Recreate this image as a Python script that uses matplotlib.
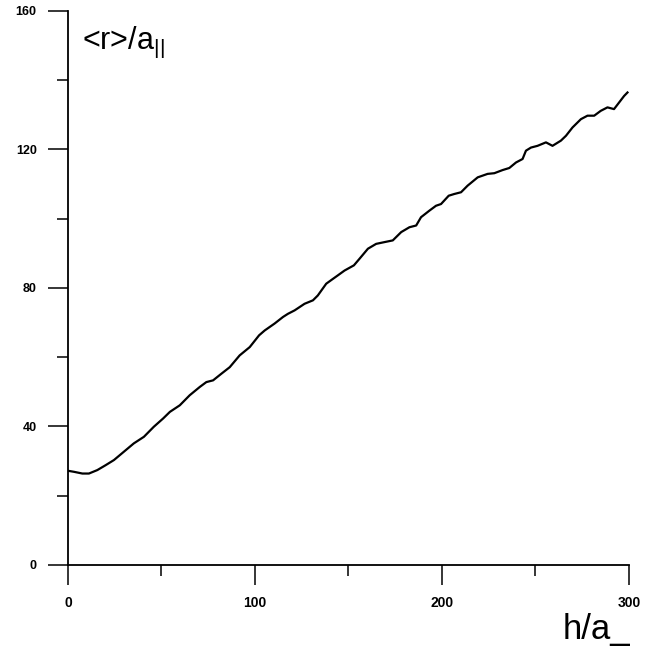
import matplotlib
matplotlib.use("Agg")
import matplotlib.pyplot as plt
from matplotlib.ticker import MultipleLocator

# <r>/a|| versus h/a_
h = [0, 3.2, 7.7, 11.2, 15.7, 20.1, 24.6, 29.9, 35.2, 40.6, 45.9, 50.9,
     54.5, 59.8, 65.1, 70.5, 74, 77.6, 82, 86.5, 91.8, 97.2, 102.2,
     105.2, 110.5, 115, 117.6, 121.2, 126.5, 131, 133.6, 138.1, 141.7,
     144.3, 147.9, 152.9, 155.9, 160.4, 164.8, 169.2, 173.7, 178.2,
     182.6, 186.2, 188.8, 193.3, 196.8, 199.5, 203.6, 206.6, 210.2,
     213.7, 219.1, 224.4, 228, 232.4, 236, 239.6, 243.1, 244.9, 247.6,
     251.1, 255.6, 259.1, 263.6, 266.3, 269.8, 274.3, 277.8, 281.4,
     284.9, 288.5, 292, 294.7, 297.4, 299.2]
r = [27.2, 26.9, 26.4, 26.4, 27.4, 28.8, 30.3, 32.7, 35.1, 37.0, 39.9, 42.3,
     44.2, 46.1, 49.0, 51.4, 52.8, 53.3, 55.2, 57.1, 60.5, 62.9, 66.3,
     67.7, 69.7, 71.6, 72.5, 73.5, 75.4, 76.4, 77.8, 81.2, 82.6,
     83.6, 85.0, 86.5, 88.4, 91.3, 92.7, 93.2, 93.7, 96.1,
     97.5, 98.0, 100.4, 102.3, 103.7, 104.2, 106.6, 107.1, 107.6,
     109.5, 111.9, 112.9, 113.1, 114.0, 114.6, 116.2, 117.2, 119.6, 120.5,
     121.0, 122.0, 121.0, 122.5, 123.9, 126.3, 128.7, 129.7, 129.7,
     131.1, 132.1, 131.6, 133.5, 135.4, 136.4]

fig = plt.figure(figsize=(6.58, 6.54), dpi=100)
ax = fig.add_axes([0.1033, 0.1361, 0.8526, 0.8475])

ax.plot(h, r, color="black", linewidth=1.6)

ax.set_xlim(0, 300)
ax.set_ylim(0, 160)
ax.xaxis.set_major_locator(MultipleLocator(100))
ax.xaxis.set_minor_locator(MultipleLocator(50))
ax.yaxis.set_major_locator(MultipleLocator(40))
ax.yaxis.set_minor_locator(MultipleLocator(20))

for s in ["top", "right"]:
    ax.spines[s].set_visible(False)
for s in ["left", "bottom"]:
    ax.spines[s].set_linewidth(1.3)

ax.tick_params(which="major", direction="out", length=14.5, width=1.1, pad=8)
ax.tick_params(which="minor", direction="out", length=8, width=1.1)

for lab in ax.get_xticklabels():
    lab.set_fontfamily("Liberation Sans")
    lab.set_fontweight("bold")
    lab.set_fontsize(10)
for lab in ax.get_yticklabels():
    lab.set_fontfamily("Liberation Sans")
    lab.set_fontweight("bold")
    lab.set_fontsize(9)

plt.rcParams["mathtext.fontset"] = "custom"
plt.rcParams["mathtext.rm"] = "Liberation Sans"

ax.text(0.025, 0.975, r"<r>/a$_{\mathregular{||}}$", transform=ax.transAxes,
        fontsize=22, family="Liberation Sans", va="top", ha="left")

fig.text(0.855, 0.012, "h/a_", fontsize=25, family="Liberation Sans",
         ha="left", va="bottom")

fig.savefig("out.png", dpi=100)
